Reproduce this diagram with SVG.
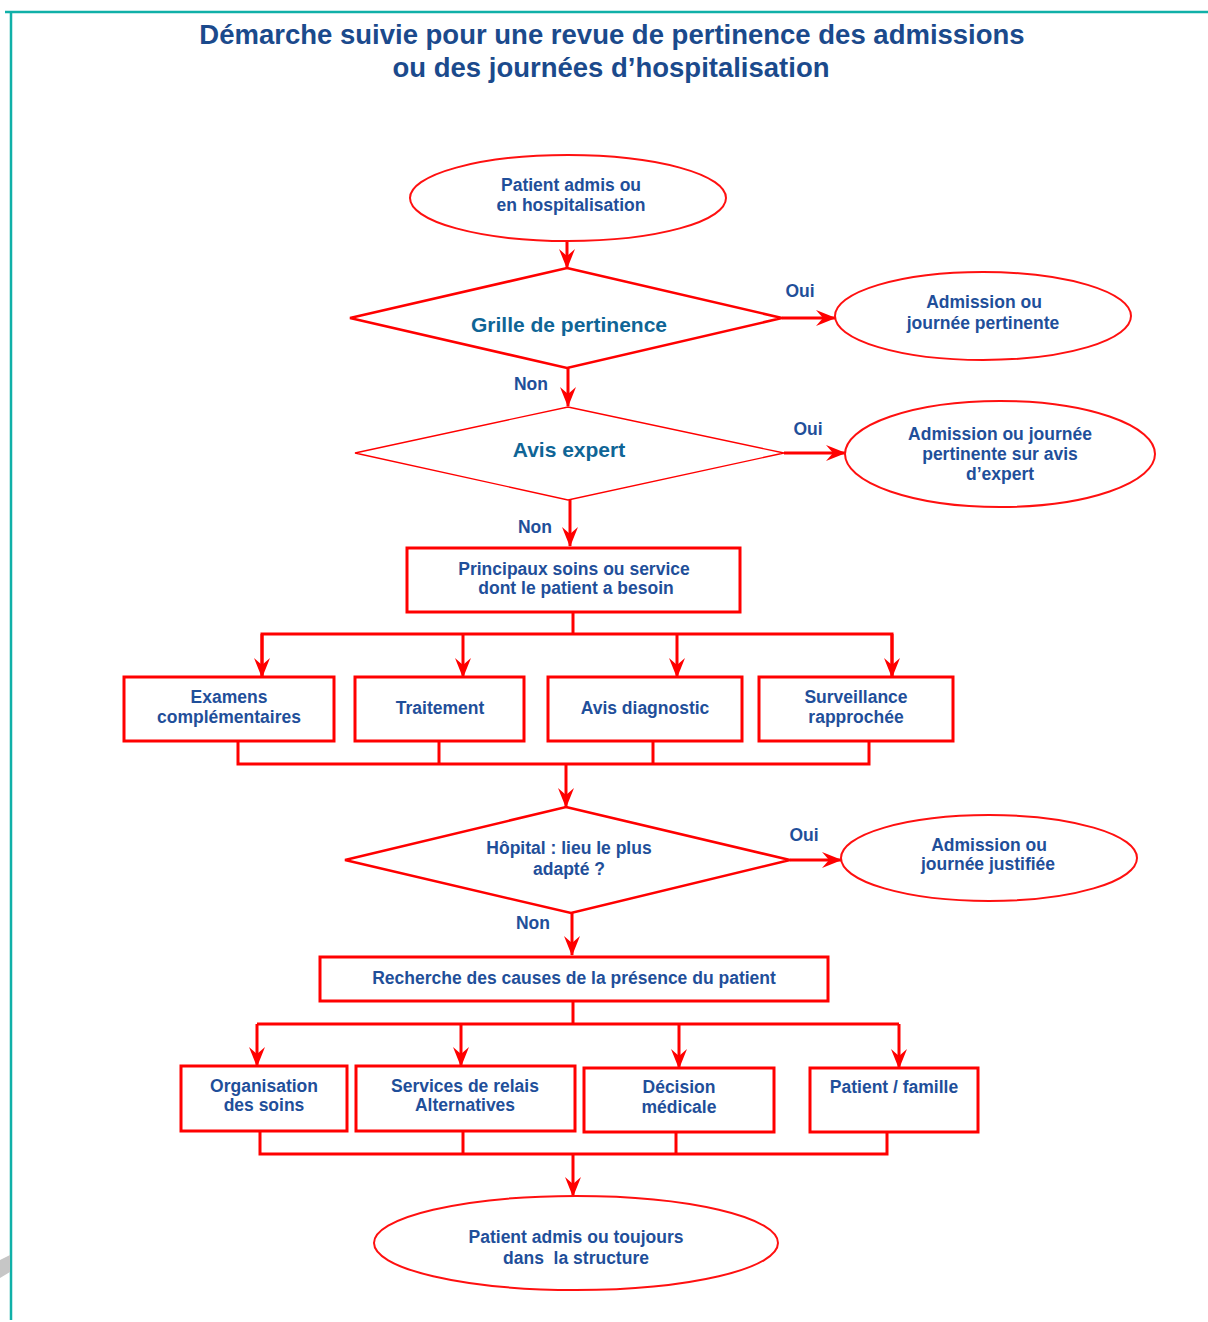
<svg xmlns="http://www.w3.org/2000/svg" width="1208" height="1322" viewBox="0 0 1208 1322">
<style>
.t{font-family:"Liberation Sans",Arial,sans-serif;font-weight:bold;font-size:17.5px;fill:#1f4f9a;text-anchor:middle}
.title{font-family:"Liberation Sans",Arial,sans-serif;font-weight:bold;font-size:27.5px;fill:#1b4a8c;text-anchor:middle}
.big{font-family:"Liberation Sans",Arial,sans-serif;font-weight:bold;font-size:21px;fill:#0f6596;text-anchor:middle}
.ell{fill:#fff;stroke:#ff1010;stroke-width:2}
.box{fill:#fff;stroke:#ff0000;stroke-width:3}
.dia{fill:#fff;stroke:#ff0000;stroke-width:2.5}
.c{fill:none;stroke:#ff0000;stroke-width:3}
.a{fill:none;stroke:#ff0000;stroke-width:3;marker-end:url(#ah)}
</style>
<defs>
<marker id="ah" viewBox="0 0 20 16" refX="19" refY="8" markerWidth="20" markerHeight="16" markerUnits="userSpaceOnUse" orient="auto">
<path d="M0,0 L20,8 L0,16 L7,8 Z" fill="#ff0000"/>
</marker>
</defs>
<rect width="1208" height="1322" fill="#fff"/>
<g id="frame">
<line x1="5" y1="12" x2="1208" y2="12" stroke="#10b0a8" stroke-width="2.5"/>
<line x1="11" y1="11" x2="11" y2="1320" stroke="#10b0a8" stroke-width="2.5"/>
<polygon points="0,1260 10,1255 10,1272 0,1278" fill="#c6c6c6"/>
</g>
<g id="title">
<text class="title" x="612" y="44">Démarche suivie pour une revue de pertinence des admissions</text>
<text class="title" x="611" y="77">ou des journées d’hospitalisation</text>
</g>
<g id="connectors">
<line class="a" x1="567" y1="241" x2="567" y2="268"/>
<line class="a" x1="782" y1="318" x2="835" y2="318"/>
<line class="a" x1="568" y1="368" x2="568" y2="406"/>
<line class="a" x1="784" y1="453" x2="845" y2="453"/>
<line class="a" x1="570" y1="500" x2="570" y2="546"/>
<polyline class="c" points="573,612 573,634"/>
<polyline class="c" points="262,676 262,634 892,634 892,676"/>
<line class="a" x1="262" y1="634" x2="262" y2="677"/>
<line class="a" x1="463" y1="634" x2="463" y2="677"/>
<line class="a" x1="677" y1="634" x2="677" y2="677"/>
<line class="a" x1="892" y1="634" x2="892" y2="677"/>
<polyline class="c" points="238,741 238,764 869,764 869,741"/>
<line class="c" x1="439" y1="741" x2="439" y2="764"/>
<line class="c" x1="653" y1="741" x2="653" y2="764"/>
<line class="a" x1="566" y1="764" x2="566" y2="807"/>
<line class="a" x1="790" y1="860" x2="841" y2="860"/>
<line class="a" x1="572" y1="913" x2="572" y2="955"/>
<line class="c" x1="573" y1="1001" x2="573" y2="1024"/>
<polyline class="c" points="257,1024 899,1024"/>
<line class="a" x1="257" y1="1024" x2="257" y2="1066"/>
<line class="a" x1="461" y1="1024" x2="461" y2="1066"/>
<line class="a" x1="679" y1="1024" x2="679" y2="1068"/>
<line class="a" x1="899" y1="1024" x2="899" y2="1068"/>
<polyline class="c" points="260,1131 260,1154 887,1154 887,1132"/>
<line class="c" x1="463" y1="1131" x2="463" y2="1154"/>
<line class="c" x1="676" y1="1132" x2="676" y2="1154"/>
<line class="a" x1="573" y1="1154" x2="573" y2="1196"/>
<text class="t" x="800" y="297">Oui</text>
<text class="t" x="531" y="390">Non</text>
<text class="t" x="808" y="435">Oui</text>
<text class="t" x="535" y="533">Non</text>
<text class="t" x="804" y="841">Oui</text>
<text class="t" x="533" y="929">Non</text>
</g>
<g id="n1">
<ellipse class="ell" cx="568" cy="198" rx="158" ry="43"/>
<text class="t" x="571" y="191">Patient admis ou</text>
<text class="t" x="571" y="211">en hospitalisation</text>
</g>
<g id="n2">
<polygon class="dia" points="567,268 782,318 567,368 350,318"/>
<text class="big" x="569" y="332">Grille de pertinence</text>
</g>
<g id="n3">
<ellipse class="ell" cx="983" cy="316" rx="148" ry="44"/>
<text class="t" x="984" y="308">Admission ou</text>
<text class="t" x="983" y="329">journée pertinente</text>
</g>
<g id="n4">
<polygon class="dia" style="stroke-width:1.3" points="568,407 784,453 568,500 355,453"/>
<text class="big" x="569" y="457">Avis expert</text>
</g>
<g id="n5">
<ellipse class="ell" cx="1000" cy="454" rx="155" ry="53"/>
<text class="t" x="1000" y="440">Admission ou journée</text>
<text class="t" x="1000" y="460">pertinente sur avis</text>
<text class="t" x="1000" y="480">d’expert</text>
</g>
<g id="n6">
<rect class="box" x="407" y="548" width="333" height="64"/>
<text class="t" x="574" y="575">Principaux soins ou service</text>
<text class="t" x="576" y="594">dont le patient a besoin</text>
</g>
<g id="n7">
<rect class="box" x="124" y="677" width="210" height="64"/>
<text class="t" x="229" y="703">Examens</text>
<text class="t" x="229" y="723">complémentaires</text>
</g>
<g id="n8">
<rect class="box" x="355" y="677" width="169" height="64"/>
<text class="t" x="440" y="714">Traitement</text>
</g>
<g id="n9">
<rect class="box" x="548" y="677" width="194" height="64"/>
<text class="t" x="645" y="714">Avis diagnostic</text>
</g>
<g id="n10">
<rect class="box" x="759" y="677" width="194" height="64"/>
<text class="t" x="856" y="703">Surveillance</text>
<text class="t" x="856" y="723">rapprochée</text>
</g>
<g id="n11">
<polygon class="dia" points="566,807 790,860 571,913 345,860"/>
<text class="t" x="569" y="854">Hôpital : lieu le plus</text>
<text class="t" x="569" y="875">adapté ?</text>
</g>
<g id="n12">
<ellipse class="ell" cx="989" cy="858" rx="148" ry="43"/>
<text class="t" x="989" y="851">Admission ou</text>
<text class="t" x="988" y="870">journée justifiée</text>
</g>
<g id="n13">
<rect class="box" x="320" y="957" width="508" height="44"/>
<text class="t" x="574" y="984">Recherche des causes de la présence du patient</text>
</g>
<g id="n14">
<rect class="box" x="181" y="1066" width="166" height="65"/>
<text class="t" x="264" y="1092">Organisation</text>
<text class="t" x="264" y="1111">des soins</text>
</g>
<g id="n15">
<rect class="box" x="356" y="1066" width="219" height="65"/>
<text class="t" x="465" y="1092">Services de relais</text>
<text class="t" x="465" y="1111">Alternatives</text>
</g>
<g id="n16">
<rect class="box" x="584" y="1068" width="190" height="64"/>
<text class="t" x="679" y="1093">Décision</text>
<text class="t" x="679" y="1113">médicale</text>
</g>
<g id="n17">
<rect class="box" x="810" y="1068" width="168" height="64"/>
<text class="t" x="894" y="1093">Patient / famille</text>
</g>
<g id="n18">
<ellipse class="ell" cx="576" cy="1243" rx="202" ry="47"/>
<text class="t" x="576" y="1243">Patient admis ou toujours</text>
<text class="t" x="576" y="1264" style="white-space:pre">dans  la structure</text>
</g>
</svg>
